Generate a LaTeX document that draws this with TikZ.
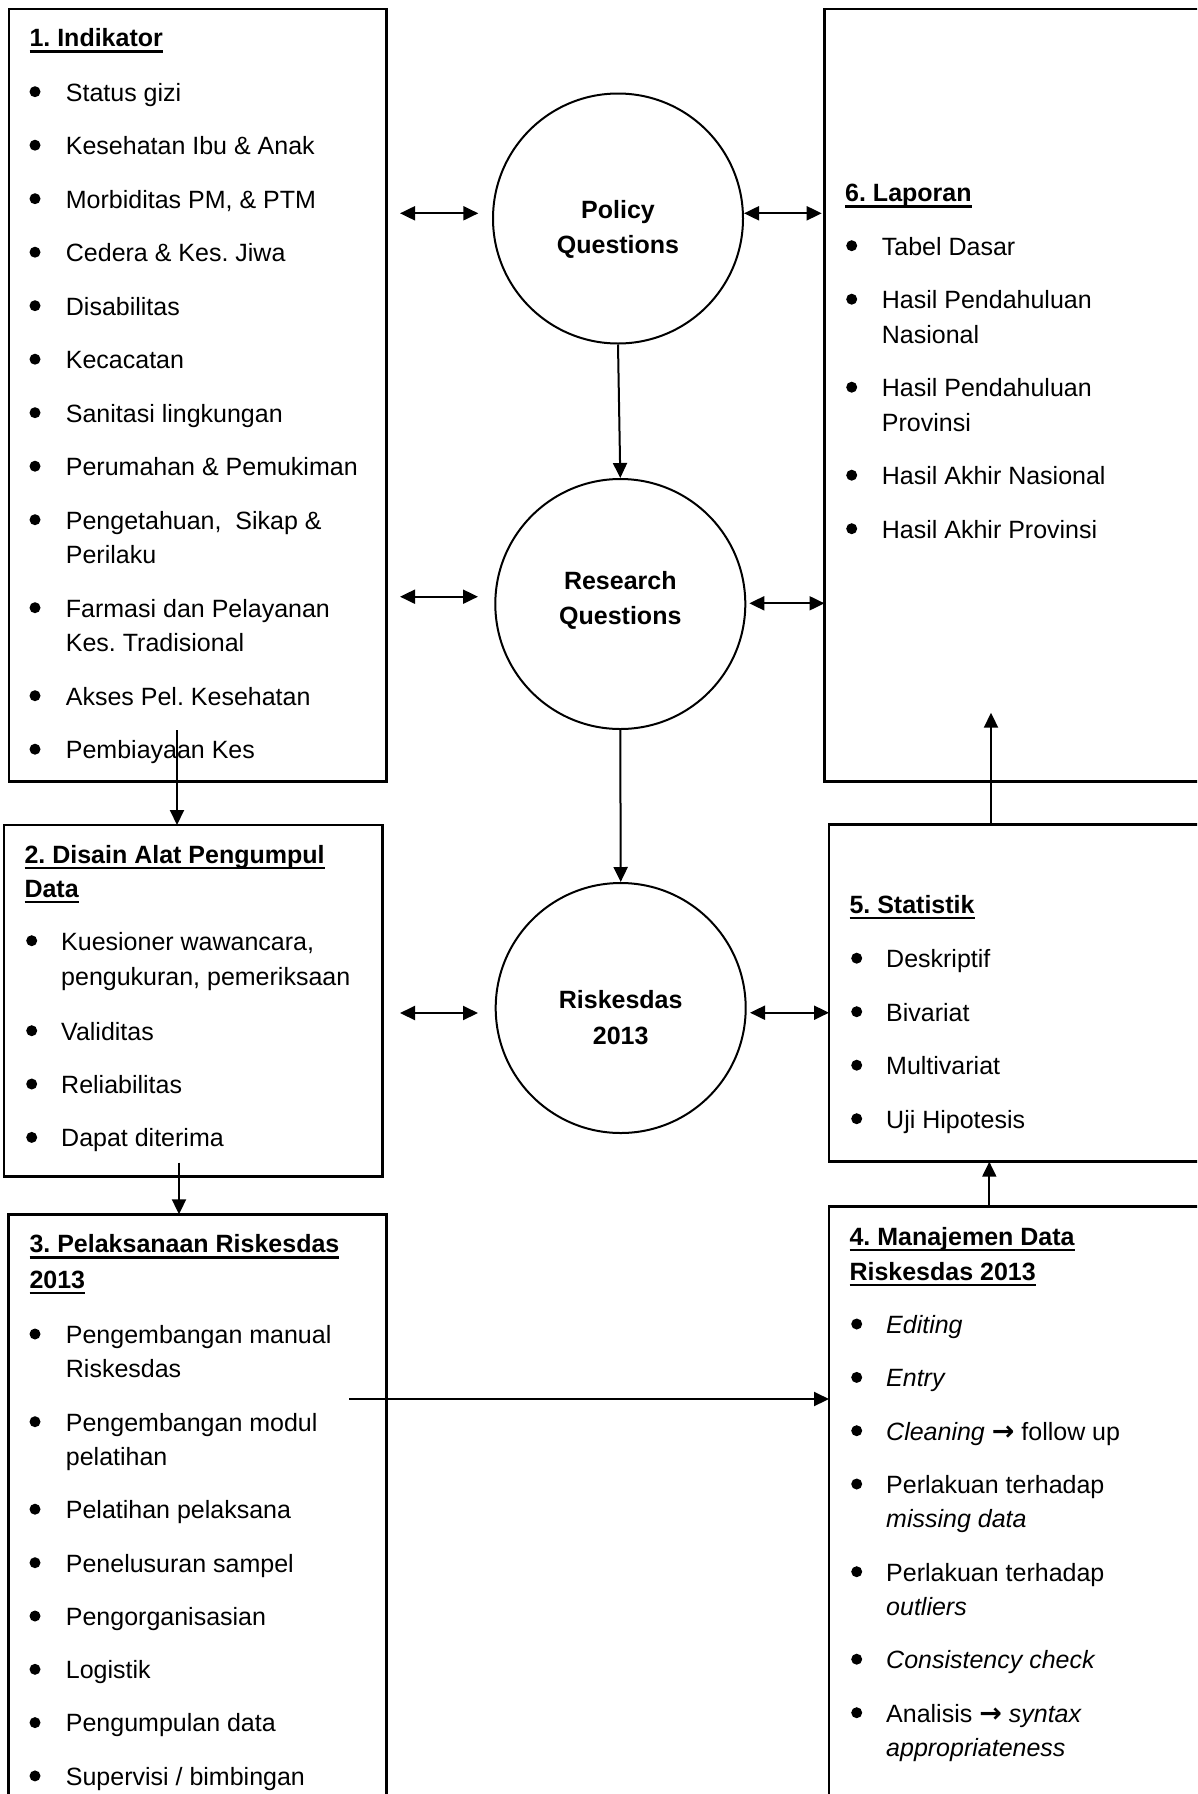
\documentclass[tikz,border=0pt]{standalone}
\usepackage{fontspec}
\setmainfont{Liberation Sans}
\newfontfamily\arrowfont{DejaVu Sans}
\usetikzlibrary{arrows.meta,fit}
\frenchspacing
\newcommand\ulx[1]{\setbox0=\hbox{#1}\rlap{\rule[-6pt]{\wd0}{2.5pt}}\box0}
\newcommand\itm[5]{\fill (#2,#4-9.3) circle (5.5); \node[txt] (#1) at (#3,#4) {#5};}
\newcommand\rar{{\arrowfont\bfseries\fontsize{27}{30}\selectfont →}}
\begin{document}
\begin{tikzpicture}[x=1pt,y=-1pt,
 box/.style={draw, line width=2.5pt, inner sep=0pt, outer sep=0pt},
 circ/.style={draw, circle, line width=2pt, minimum size=250pt, inner sep=0pt},
 txt/.style={anchor=base west, inner sep=0pt, font=\fontsize{25}{30}\selectfont},
 ttl/.style={anchor=base west, inner sep=0pt, font=\fontsize{25}{30}\selectfont\bfseries},
 ctxt/.style={anchor=base, inner sep=0pt, font=\fontsize{25}{30}\selectfont\bfseries},
 arr/.style={line width=2pt, -{Triangle[length=15pt,width=14pt]}},
 darr/.style={line width=2pt, {Triangle[length=15pt,width=14pt]}-{Triangle[length=15pt,width=14pt]}}]
\useasboundingbox (0,0) rectangle (1197,1794);
\clip (0,0) rectangle (1197,1794);

% boxes
\node[box, fit={(9,9) (386.5,781.7)}] (b1) {};
\node[box, fit={(824.5,9) (1215,781.7)}] (b6) {};
\node[box, fit={(4,825) (382.7,1176.5)}] (b2) {};
\node[box, fit={(829,824.3) (1215,1161.7)}] (b5) {};
\node[box, fit={(8.3,1214.3) (386.7,1815)}] (b3) {};
\node[box, fit={(829,1206.7) (1215,1815)}] (b4) {};

% circles
\node[circ] (pq) at (618,218.5) {};
\node[circ] (rq) at (620.3,604) {};
\node[circ] (rd) at (620.7,1008) {};
\node[ctxt] (pq1) at (618,218.3) {Policy};
\node[ctxt] (pq2) at (618,253.3) {Questions};
\node[ctxt] (rq1) at (620.3,589.3) {Research};
\node[ctxt] (rq2) at (620.3,624) {Questions};
\node[ctxt] (rd1) at (620.7,1008.3) {Riskesdas};
\node[ctxt] (rd2) at (620.7,1044.3) {2013};

% box 1
\node[ttl] (t1) at (29.3,46.7) {\ulx{1. Indikator}};
\itm{i11}{35}{65.7}{101}{Status gizi}
\itm{i12}{35}{65.7}{154.5}{Kesehatan Ibu \& Anak}
\itm{i13}{35}{65.7}{208}{Morbiditas PM, \& PTM}
\itm{i14}{35}{65.7}{261.5}{Cedera \& Kes. Jiwa}
\itm{i15}{35}{65.7}{315}{Disabilitas}
\itm{i16}{35}{65.7}{368.5}{Kecacatan}
\itm{i17}{35}{65.7}{422}{Sanitasi lingkungan}
\itm{i18}{35}{65.7}{475.5}{Perumahan \& Pemukiman}
\itm{i19}{35}{65.7}{529}{Pengetahuan,\ \ Sikap \&}
\node[txt] (i19b) at (65.7,563.5) {Perilaku};
\itm{i110}{35}{65.7}{617}{Farmasi dan Pelayanan}
\node[txt] (i110b) at (65.7,651.5) {Kes. Tradisional};
\itm{i111}{35}{65.7}{705}{Akses Pel. Kesehatan}
\itm{i112}{35}{65.7}{758.5}{Pembiayaan Kes}

% box 6
\node[ttl] (t6) at (845,201.7) {\ulx{6. Laporan}};
\itm{i61}{851.7}{881.7}{255}{Tabel Dasar}
\itm{i62}{851.7}{881.7}{308.5}{Hasil Pendahuluan}
\node[txt] (i62b) at (881.7,343) {Nasional};
\itm{i63}{851.7}{881.7}{396.5}{Hasil Pendahuluan}
\node[txt] (i63b) at (881.7,431) {Provinsi};
\itm{i64}{851.7}{881.7}{484.5}{Hasil Akhir Nasional}
\itm{i65}{851.7}{881.7}{538}{Hasil Akhir Provinsi}

% box 2
\node[ttl] (t2) at (24.3,863) {\ulx{2. Disain Alat Pengumpul}};
\node[ttl] (t2b) at (24.3,897) {\ulx{Data}};
\itm{i21}{31.7}{61}{950}{Kuesioner wawancara,}
\node[txt] (i21b) at (61,985) {pengukuran, pemeriksaan};
\itm{i22}{31.7}{61}{1040}{Validitas}
\itm{i23}{31.7}{61}{1093.3}{Reliabilitas}
\itm{i24}{31.7}{61}{1146.7}{Dapat diterima}

% box 5
\node[ttl] (t5) at (849.3,913) {\ulx{5. Statistik}};
\itm{i51}{856.7}{886}{967.5}{Deskriptif}
\itm{i52}{856.7}{886}{1021}{Bivariat}
\itm{i53}{856.7}{886}{1074.5}{Multivariat}
\itm{i54}{856.7}{886}{1128}{Uji Hipotesis}

% box 3
\node[ttl] (t3) at (29.3,1252.7) {\ulx{3. Pelaksanaan Riskesdas}};
\node[ttl] (t3b) at (29.3,1288) {\ulx{2013}};
\itm{i31}{35}{65.7}{1343.3}{Pengembangan manual}
\node[txt] (i31b) at (65.7,1377.5) {Riskesdas};
\itm{i32}{35}{65.7}{1431}{Pengembangan modul}
\node[txt] (i32b) at (65.7,1465.5) {pelatihan};
\itm{i33}{35}{65.7}{1518.5}{Pelatihan pelaksana}
\itm{i34}{35}{65.7}{1572}{Penelusuran sampel}
\itm{i35}{35}{65.7}{1625.3}{Pengorganisasian}
\itm{i36}{35}{65.7}{1678.6}{Logistik}
\itm{i37}{35}{65.7}{1731.9}{Pengumpulan data}
\itm{i38}{35}{65.7}{1785.2}{Supervisi / bimbingan}

% box 4
\node[ttl] (t4) at (849.3,1245) {\ulx{4. Manajemen Data}};
\node[ttl] (t4b) at (849.3,1280) {\ulx{Riskesdas 2013}};
\itm{i41}{856.7}{886}{1333.3}{\textit{Editing}}
\itm{i42}{856.7}{886}{1386.7}{\textit{Entry}}
\itm{i43}{856.7}{886}{1440}{\textit{Cleaning} \rar{} follow up}
\itm{i44}{856.7}{886}{1493.3}{Perlakuan terhadap}
\node[txt] (i44b) at (886,1527.5) {\textit{missing data}};
\itm{i45}{856.7}{886}{1581}{Perlakuan terhadap}
\node[txt] (i45b) at (886,1615) {\textit{outliers}};
\itm{i46}{856.7}{886}{1668.5}{\textit{Consistency check}}
\itm{i47}{856.7}{886}{1722}{Analisis \rar{} \textit{syntax}}
\node[txt] (i47b) at (886,1756.5) {\textit{appropriateness}};

% free ends
\coordinate (d1a) at (400,213.3);
\coordinate (d1b) at (478.3,213.3);
\coordinate (d2a) at (744,213.3);
\coordinate (d2b) at (821.7,213.3);
\coordinate (d3a) at (400,596.7);
\coordinate (d3b) at (478,596.7);
\coordinate (d4a) at (749.3,603.3);
\coordinate (d5a) at (400,1013);
\coordinate (d5b) at (478,1013);
\coordinate (d6a) at (750,1012.7);
\coordinate (c12) at (177,730);
\coordinate (c23) at (179,1162.7);
\coordinate (c34) at (349,1399);
\coordinate (c45) at (989.3,1190);
\coordinate (c56) at (991,712.7);

% connectors
\draw[darr] (d1a) -- (d1b);
\draw[darr] (d2a) -- (d2b);
\draw[darr] (d3a) -- (d3b);
\draw[darr] (d4a) -- (d4a -| b6.west);
\draw[darr] (d5a) -- (d5b);
\draw[darr] (d6a) -- (d6a -| b5.west);
\draw[arr] (pq.south) -- (rq.north);
\draw[arr] (rq.south) -- (rd.north);
\draw[arr] (c12) -- (c12 |- b2.north);
\draw[arr] (c23) -- (c23 |- b3.north);
\draw[arr] (c34) -- (c34 -| b4.west);
\draw[arr] (c45 |- b4.north) -- (c45 |- b5.south);
\draw[arr] (c56 |- b5.north) -- (c56);
\end{tikzpicture}
\end{document}
